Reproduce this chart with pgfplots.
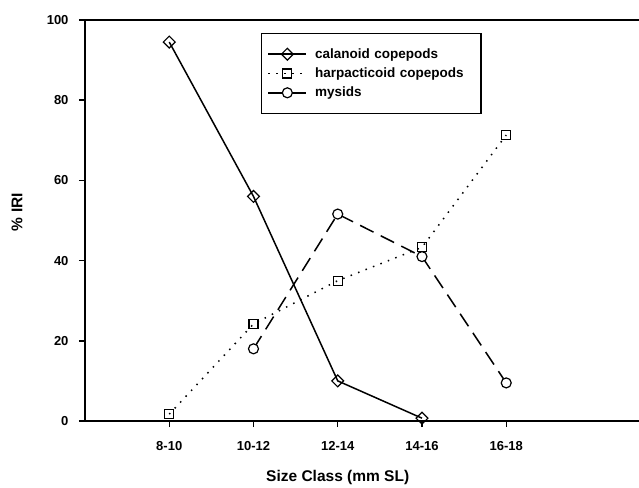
\documentclass[border=0pt]{standalone}
\usepackage{fontspec}
\setmainfont{Liberation Sans}
\usepackage{pgfplots}
\pgfplotsset{compat=1.18}
\begin{document}
\begin{tikzpicture}
\begin{axis}[
    at={(0,0)}, anchor=south west,
    scale only axis, width=700pt, height=401pt,
    xmin=-1, xmax=7.309, ymin=0, ymax=100,
    clip=false,
    axis x line*=box, axis y line*=left,
    x axis line style={-}, y axis line style={-},
    xtick={0,1,2,3,4},
    xticklabels={8-10,10-12,12-14,14-16,16-18},
    ytick={0,20,40,60,80,100},
    xtick pos=bottom, ytick pos=left,
    tick align=outside, major tick length=6pt,
    axis line style={line width=1.7pt},
    every tick/.style={black, line width=1.4pt},
    ticklabel style={font=\bfseries\fontsize{13}{15}\selectfont},
    xticklabel style={yshift=-11pt},
    yticklabel style={xshift=-7pt},
    /pgf/number format/assume math mode=true,
    xlabel={Size Class (mm SL)},
    ylabel={\% IRI},
    label style={font=\bfseries\fontsize{15.5}{18}\selectfont},
    xlabel style={at={(axis cs:2,-13.97)}, anchor=center},
    ylabel style={at={(axis cs:-1.807,52.1)}, anchor=center},
    legend style={at={(axis cs:1.089,96.76)}, anchor=north west, draw=black,
        line width=1.2pt, font=\bfseries\fontsize{13.5}{16}\selectfont,
        inner xsep=6pt, inner ysep=13pt, row sep=4pt,
        cells={anchor=west, text width=164pt}},
    legend image code/.code={\draw[mark repeat=2,mark phase=2,#1]
        plot coordinates {(0pt,0pt)(19pt,0pt)(38pt,0pt)};},
]
\addplot[black, line width=1.5pt, mark=square, mark size=4.2pt,
    mark options={rotate=45, solid, fill=white, line width=1.2pt}]
    coordinates {(0,94.5)(1,56)(2,10)(3,0.7)};
\addlegendentry{\hspace{6pt}calanoid copepods}

\addplot[black, line width=1.5pt, dash pattern={on 1.5pt off 6.5pt},
    mark=square, mark size=4.5pt,
    mark options={solid, fill=white, line width=1.2pt}]
    coordinates {(0,1.7)(1,24.2)(2,35)(3,43.3)(4,71.3)};
\addlegendentry{\hspace{6pt}harpacticoid copepods}

\addplot[black, line width=1.5pt, dash pattern={on 15pt off 8pt},
    mark=*, mark size=5pt,
    mark options={solid, fill=white, line width=1.2pt}]
    coordinates {(1,18)(2,51.6)(3,41)(4,9.5)};
\addlegendentry{\hspace{6pt}mysids}
\end{axis}
\pgfresetboundingbox
\path[use as bounding box] (-85pt,-66pt) rectangle (554pt,421pt);
\end{tikzpicture}
\end{document}
